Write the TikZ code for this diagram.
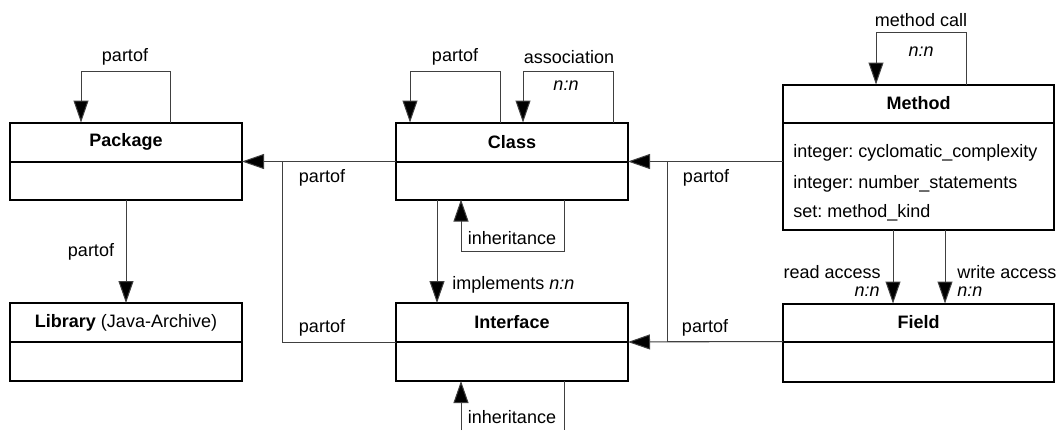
\documentclass[tikz,border=0pt]{standalone}
\usepackage{fontspec}
\setmainfont{Liberation Sans}
\usetikzlibrary{arrows.meta}
\frenchspacing
\begin{document}
\begin{tikzpicture}[x=0.5pt,y=-0.5pt,
  every node/.style={font=\fontsize{9}{11}\selectfont},
  head/.style={draw, line width=1pt, inner sep=0pt, outer sep=0pt, anchor=north west,
    font=\fontsize{9}{11}\selectfont\bfseries},
  body/.style={draw, line width=1pt, inner sep=0pt, outer sep=0pt, anchor=north},
  link/.style={draw=black!75, line width=0.5pt},
  arr/.style={link, -{Triangle[length=11pt,width=7.5pt,fill=black]}},
  lbl/.style={inner sep=0pt},
  attr/.style={inner sep=0pt, anchor=west}]
\useasboundingbox (0,0) rectangle (1059,430);

% ---- classes ----
\node[head, minimum width=116pt, minimum height=19.5pt] (pkg) at (10,122.5) {Package};
\node[body, minimum width=116pt, minimum height=19pt] (pkgB) at (pkg.south) {};

\node[head, minimum width=116pt, minimum height=19.5pt] (lib) at (10,303) {Library \normalfont(Java-Archive)};
\node[body, minimum width=116pt, minimum height=19.5pt] (libB) at (lib.south) {};

\node[head, minimum width=116pt, minimum height=19.5pt] (cls) at (396,122.5) {Class};
\node[body, minimum width=116pt, minimum height=19pt] (clsB) at (cls.south) {};

\node[head, minimum width=116pt, minimum height=19.5pt] (ifc) at (396,303) {Interface};
\node[body, minimum width=116pt, minimum height=19.5pt] (ifcB) at (ifc.south) {};

\node[head, minimum width=135.5pt, minimum height=19pt] (mth) at (783,84.5) {Method};
\node[body, minimum width=135.5pt, minimum height=53.5pt] (mthB) at (mth.south) {};
\node[attr] (a1) at (793,153) {integer: cyclomatic\_complexity};
\node[attr] (a2) at (793,184) {integer: number\_statements};
\node[attr] (a3) at (793,213) {set: method\_kind};

\node[head, minimum width=135.5pt, minimum height=19pt] (fld) at (783,303.5) {Field};
\node[body, minimum width=135.5pt, minimum height=20pt] (fldB) at (fld.south) {};

% ---- self loops ----
\draw[arr] ([xshift=22pt]pkg.north) -- ++(0,-50.8) -| ([xshift=-22.5pt]pkg.north);
\draw[arr] ([xshift=-6pt]cls.north) -- ++(0,-50.8) -| ([xshift=-51pt]cls.north);
\draw[arr] ([xshift=50.5pt]cls.north) -- ++(0,-50.8) -| ([xshift=5.5pt]cls.north);
\draw[arr] ([xshift=23.75pt]mth.north) -- ++(0,-51.8) -| ([xshift=-21.25pt]mth.north);
\draw[arr] ([xshift=26pt]clsB.south) -- ++(0,52) -| ([xshift=-25.5pt]clsB.south);

% ---- inheritance between interfaces ----
\coordinate (ihL) at (461,430);
\coordinate (ihR) at (564,430);
\draw[arr] (ihL) -- (ihL |- ifcB.south);
\draw[link] (ihR |- ifcB.south) -- (ihR);

% ---- part-of relations ----
\draw[arr] (pkgB.south) -- (lib.north);
\draw[arr] (cls.south west) -- (pkg.south east);
\coordinate (j1) at (282,161.5);
\draw[link] (ifc.south west) -| (j1);
\draw[arr] (mthB.west |- cls.south) -- (cls.south east);
\draw[arr] (fld.south west) -- (ifc.south east);
\coordinate (j2) at (667,161.5);
\draw[link] (fld.south west) -| (j2);

% ---- implements, field access ----
\draw[arr] ([xshift=-37.5pt]clsB.south) -- ([xshift=-37.5pt]ifc.north);
\draw[arr] ([xshift=-12.75pt]mthB.south) -- ([xshift=-12.75pt]fld.north);
\draw[arr] ([xshift=13.25pt]mthB.south) -- ([xshift=13.25pt]fld.north);

% ---- labels ----
\node[lbl] (l1) at (125,57) {partof};
\node[lbl] (l2) at (455,57) {partof};
\node[lbl] (l3) at (569,57) {association};
\node[lbl] (l4) at (566,86) {\itshape n:n};
\node[lbl] (l5) at (921,20) {method call};
\node[lbl] (l6) at (921,52) {\itshape n:n};
\node[lbl] (l7) at (91,252) {partof};
\node[lbl] (l8) at (322,178) {partof};
\node[lbl] (l9) at (322,328) {partof};
\node[lbl] (l10) at (706,178) {partof};
\node[lbl] (l11) at (705,328) {partof};
\node[lbl] (l12) at (512,238) {inheritance};
\node[lbl, anchor=west] (l13) at (452,285) {implements \itshape n:n};
\node[lbl] (l14) at (512,417) {inheritance};
\node[lbl, anchor=east] (l15) at (881,272) {read access};
\node[lbl, anchor=east] (l16) at (880,292) {\itshape n:n};
\node[lbl, anchor=west] (l17) at (957,272) {write access};
\node[lbl, anchor=west] (l18) at (957,292) {\itshape n:n};
\end{tikzpicture}
\end{document}
